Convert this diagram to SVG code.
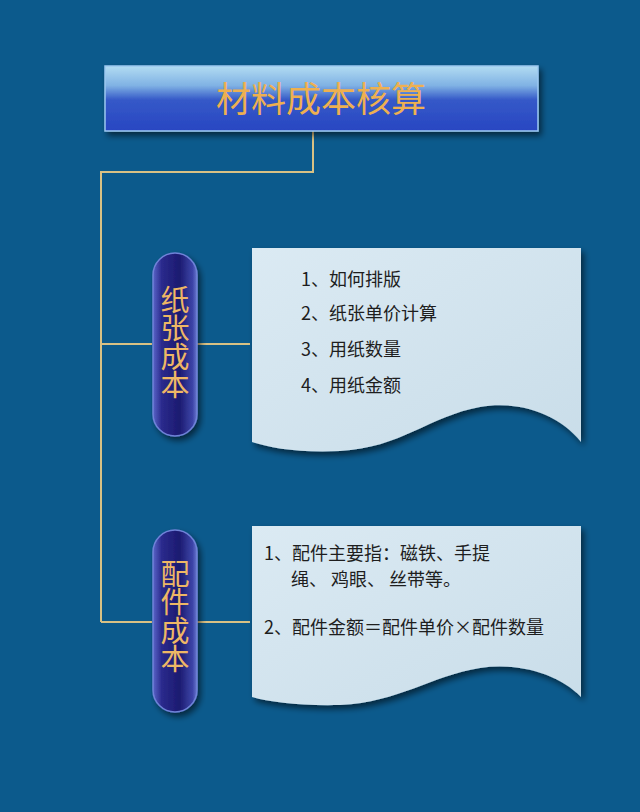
<svg xmlns="http://www.w3.org/2000/svg" width="640" height="812" viewBox="0 0 640 812">
<defs>
<linearGradient id="titleG" x1="0" y1="0" x2="0" y2="1">
<stop offset="0" stop-color="#b2dcf2"/>
<stop offset="0.3" stop-color="#80b2e4"/>
<stop offset="0.52" stop-color="#3559c8"/>
<stop offset="1" stop-color="#2846c2"/>
</linearGradient>
<linearGradient id="pillG" x1="0" y1="0" x2="1" y2="0">
<stop offset="0" stop-color="#5a64c8"/>
<stop offset="0.2" stop-color="#2a2a8c"/>
<stop offset="0.6" stop-color="#1c1a70"/>
<stop offset="0.9" stop-color="#3c44a8"/>
<stop offset="1" stop-color="#6a78d0"/>
</linearGradient>
<linearGradient id="cardG" x1="0" y1="0" x2="1" y2="1">
<stop offset="0" stop-color="#dbeaf3"/>
<stop offset="1" stop-color="#c9dde9"/>
</linearGradient>
<filter id="sh" x="-10%" y="-10%" width="130%" height="130%">
<feGaussianBlur in="SourceAlpha" stdDeviation="3"/>
<feOffset dx="3" dy="4" result="b"/>
<feComponentTransfer><feFuncA type="linear" slope="0.55"/></feComponentTransfer>
<feMerge><feMergeNode/><feMergeNode in="SourceGraphic"/></feMerge>
</filter>
</defs>
<style>
.conn{fill:none;stroke:#d9c184;stroke-width:2}
.pill{fill:url(#pillG);stroke:#6f82d8;stroke-width:1.5}
.ptxt{font-family:"Noto Sans CJK SC","Noto Sans",sans-serif;font-size:29px;fill:#eeb765;writing-mode:vertical-rl;letter-spacing:-0.5px}
.card{fill:url(#cardG);filter:url(#sh)}
.ctxt{font-family:"Noto Sans CJK SC","Noto Sans",sans-serif;font-size:18px;fill:#1e1e1e}
</style>
<rect width="640" height="812" fill="#0c5a8c"/>
<g id="connectors">
<path class="conn" d="M313,131 V172 H101 V622"/>
<path class="conn" d="M101,344 H152 M197,344 H250"/>
<path class="conn" d="M101,622 H152 M197,622 H250"/>
</g>
<g id="title">
<rect x="105" y="66" width="433" height="65" fill="url(#titleG)" stroke="#9cc8f0" stroke-width="1.5" filter="url(#sh)"/>
<text x="321" y="112" font-family="Noto Sans CJK SC,Noto Sans,sans-serif" font-size="35" fill="#eeb050" text-anchor="middle">材料成本核算</text>
</g>
<g id="pill1">
<rect class="pill" x="153" y="253" width="44" height="183" rx="22" filter="url(#sh)"/>
<text class="ptxt" x="175" y="285">纸张成本</text>
</g>
<g id="pill2">
<rect class="pill" x="153" y="530" width="44" height="182" rx="22" filter="url(#sh)"/>
<text class="ptxt" x="175" y="559">配件成本</text>
</g>
<g id="card1">
<path class="card" d="M252,248 H581 V442 C560,415 520,400 480,407 C430,416 400,448 340,451 C300,453 270,448 252,442 Z"/>
<text class="ctxt" x="301" y="286">1、如何排版</text>
<text class="ctxt" x="301" y="320">2、纸张单价计算</text>
<text class="ctxt" x="301" y="356">3、用纸数量</text>
<text class="ctxt" x="301" y="392">4、用纸金额</text>
</g>
<g id="card2">
<path class="card" d="M252,526 H581 V697 C560,675 520,662 480,668 C430,676 400,702 340,705 C300,706 270,702 252,697 Z"/>
<text class="ctxt" x="264" y="560">1、配件主要指：磁铁、手提</text>
<text class="ctxt" x="291" y="586" xml:space="preserve">绳、 鸡眼、 丝带等。</text>
<text class="ctxt" x="264" y="634">2、配件金额＝配件单价×配件数量</text>
</g>
</svg>
